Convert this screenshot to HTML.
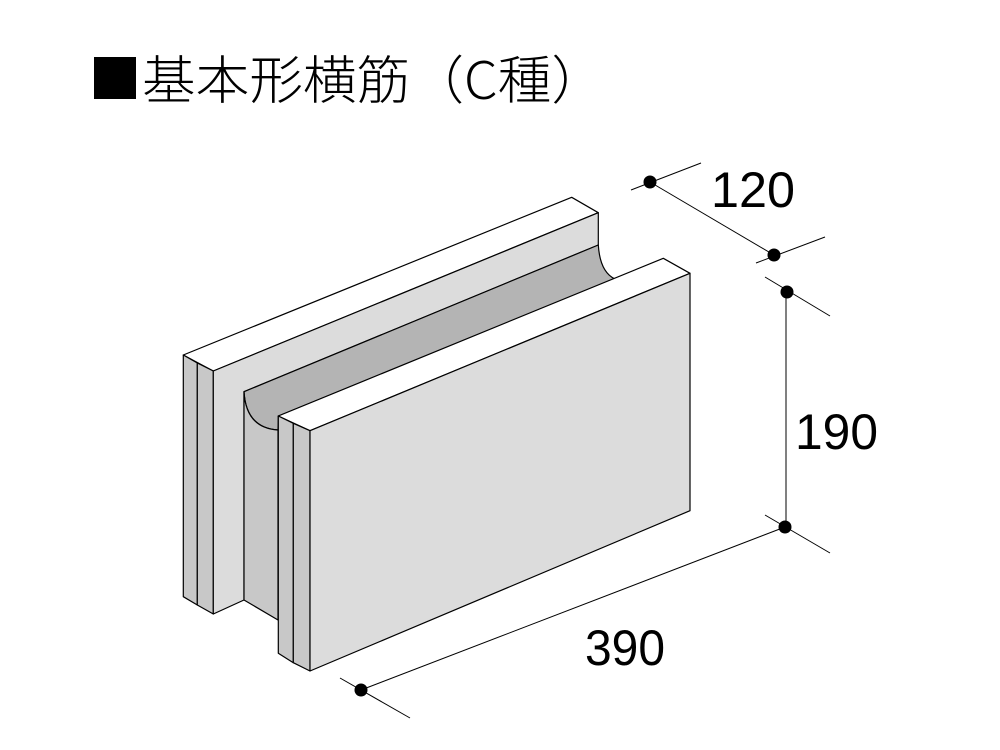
<!DOCTYPE html>
<html><head><meta charset="utf-8"><style>html,body{margin:0;padding:0;background:#fff}svg{display:block}</style></head>
<body>
<svg width="1000" height="750" viewBox="0 0 1000 750" xmlns="http://www.w3.org/2000/svg">
<rect width="1000" height="750" fill="#fff"/>
<rect x="94" y="57" width="42" height="42" fill="#000"/>
<text x="142" y="99" font-family="Noto Sans CJK JP, sans-serif" font-weight="300" font-size="52" textLength="463" lengthAdjust="spacingAndGlyphs" fill="#000">基本形横筋（C種）</text>
<g stroke="#000" stroke-width="1.2" stroke-linejoin="round">
<polygon points="183.3,355 571.7,197.3 598.3,212.7 213.3,371" fill="#fff"/>
<polygon points="183.3,355 197.3,363 197.3,605 183.3,596.7" fill="#c8c8c8"/>
<polygon points="197.3,363 213.3,371 213.3,614 197.3,605" fill="#c8c8c8"/>
<polygon points="213.3,371 598.3,212.7 598.3,245 244,391.7 244,600 213.3,614" fill="#dcdcdc"/>
<path d="M244,391.7 L598.3,245 Q600,272 615,279 L278.3,416 L278,430 Q246,428 244,391.7 Z" fill="#b4b4b4"/>
<path d="M244,391.7 Q246,428 278,430 L278,620 L244,600 Z" fill="#c8c8c8"/>
<polygon points="278.3,416 663.3,258.3 690,273.3 310,430.7" fill="#fff"/>
<polygon points="278.3,416 293.3,423.3 293.3,662.7 278.3,653.3" fill="#c8c8c8"/>
<polygon points="293.3,423.3 310,430.7 310,671 293.3,662.7" fill="#c8c8c8"/>
<polygon points="310,430.7 690,273.3 690,510.7 310,671" fill="#dcdcdc"/>
</g>
<g stroke="#000" stroke-width="1" fill="none">
<line x1="650" y1="182" x2="774" y2="255"/>
<line x1="631" y1="190" x2="701" y2="163"/>
<line x1="756" y1="263" x2="825" y2="237"/>
<line x1="786" y1="292" x2="786" y2="527"/>
<line x1="765" y1="277" x2="830" y2="316"/>
<line x1="765" y1="515" x2="830" y2="553"/>
<line x1="361" y1="690" x2="785" y2="527"/>
<line x1="340" y1="678" x2="410" y2="718"/>
</g>
<g fill="#000">
<circle cx="650" cy="182" r="6.5"/>
<circle cx="774" cy="255" r="6.5"/>
<circle cx="787" cy="292" r="6.5"/>
<circle cx="785" cy="527" r="6.5"/>
<circle cx="361" cy="690" r="6.5"/>
</g>
<g font-family="Liberation Sans Narrow, Liberation Sans, sans-serif" font-size="50" fill="#000">
<text x="711" y="207" textLength="84" lengthAdjust="spacingAndGlyphs">120</text>
<text x="795" y="449" textLength="83" lengthAdjust="spacingAndGlyphs">190</text>
<text x="585" y="665" textLength="80" lengthAdjust="spacingAndGlyphs">390</text>
</g>
</svg>
</body></html>
